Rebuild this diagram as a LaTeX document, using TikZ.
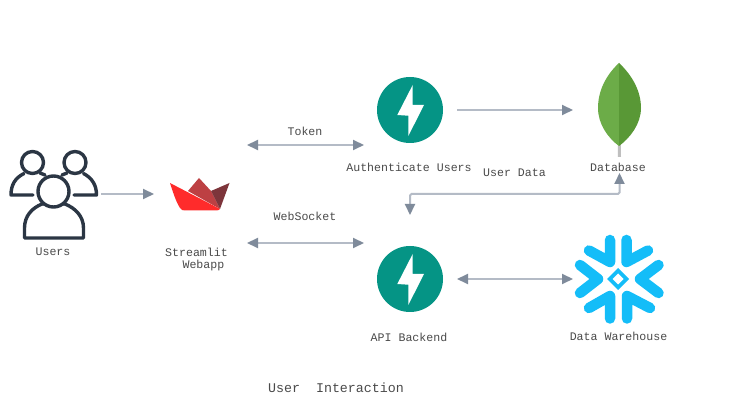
\documentclass[tikz,border=0pt]{standalone}
\usepackage{fontspec}
\setmonofont{Liberation Mono}
\usetikzlibrary{arrows.meta}
\definecolor{linec}{HTML}{B4BBC6}
\definecolor{tipc}{HTML}{7F8B9B}
\definecolor{txt}{HTML}{4A4A4A}
\definecolor{ink}{HTML}{2B3644}
\definecolor{fast}{HTML}{059485}
\definecolor{snow}{HTML}{14BDF8}
\tikzset{
  lbl/.style={font=\fontsize{11.6}{12.5}\selectfont\ttfamily,text=txt,inner sep=0pt,align=center},
  icon/.style={inner sep=0pt,minimum size=#1},
  tip/.style={},
  conn/.style={draw=linec,line width=2pt,-{Stealth[inset=0pt,length=11pt,width=10pt,color=tipc]}},
  conn2/.style={draw=linec,line width=2pt,{Stealth[inset=0pt,length=11pt,width=10pt,color=tipc]}-{Stealth[inset=0pt,length=11pt,width=10pt,color=tipc]}},
  person/.style={draw=ink,line width=3.4pt,line cap=round,line join=round},
  arm/.style={draw=snow,line width=10.5pt,line cap=round,line join=miter}
}
\begin{document}
\begin{tikzpicture}[x=1pt,y=-1pt]
\useasboundingbox[fill=white] (0,0) rectangle (748,403);
% users
\node[icon=80pt] (users) at (53,200) {};
\draw[person] (32.5,162.5) circle (11);
\draw[person] (75,162.5) circle (11);
\draw[person] (33,195) -- (11,195) .. controls (11,185) and (15,178) .. (24,173.5);
\draw[person] (40,173) -- (45,175);
\draw[person] (74,195) -- (96.5,195) .. controls (96.5,185) and (92,178) .. (83.5,173.5);
\draw[person] (67,173) -- (62,175);
\draw[person,fill=white] (24.5,238) -- (24.5,228) .. controls (24.5,216) and (32,208) .. (42,204) -- (65,204) .. controls (75,208) and (83.5,216) .. (83.5,228) -- (83.5,238) -- cycle;
\draw[person,fill=white] (53.5,191.5) circle (15.5);
% streamlit
\node[icon=60pt] (st) at (199,194) {};
\fill[fill={rgb,255:red,189;green,64;blue,67}] (199,178) -- (188,191) -- (220,209) -- (211,191) -- cycle;
\fill[fill={rgb,255:red,125;green,53;blue,59}] (229.5,183) -- (211,191) -- (220,209) -- cycle;
\fill[fill={rgb,255:red,255;green,43;blue,43}] (170,183) .. controls (173,192) and (176,202) .. (180,208) .. controls (181,210) and (183,210.5) .. (185,210.5) -- (216,210.5) .. controls (218,210.5) and (219,210) .. (220,209) -- cycle;
% fastapi top
\node[circle,fill=fast,icon=66pt] (auth) at (410,110) {};
\fill[white] (412.7,85) -- (397.3,115) -- (408.3,115.7) -- (408.3,136) -- (424,105) -- (412.7,105) -- cycle;
% fastapi bottom
\node[circle,fill=fast,icon=66pt] (api) at (410,279) {};
\fill[white] (412.7,254) -- (397.3,284) -- (408.3,284.7) -- (408.3,305) -- (424,274) -- (412.7,274) -- cycle;
% leaf
\node[icon=60pt] (db) at (619,110) {};
\fill[gray!50] (617.8,130) -- (620.5,130) -- (621,157) -- (617.8,157) -- cycle;
\fill[fill={rgb,255:red,108;green,172;blue,72}] (619,63) .. controls (605,76) and (598,92) .. (598,108) .. controls (598,124) and (608,138) .. (619,146) -- cycle;
\fill[fill={rgb,255:red,89;green,152;blue,54}] (619,63) .. controls (633,76) and (641,92) .. (641,108) .. controls (641,124) and (630,138) .. (619,146) -- cycle;
% snowflake
\node[icon=90pt] (dw) at (618,279) {};
\draw[arm,line join=round] (589,250.5) -- (610,262) -- (610,240);
\draw[arm,line join=round] (648,250.5) -- (626.5,262) -- (626.5,240);
\draw[arm,line join=round] (580,265) -- (598,279) -- (580,293);
\draw[arm,line join=round] (658.5,265) -- (640,279) -- (658.5,293);
\draw[arm,line join=round] (589,308) -- (610,296) -- (610,318.5);
\draw[arm,line join=round] (650,308) -- (627,296) -- (627,318.5);
\fill[snow] (618,268) -- (629,279) -- (618,290) -- (607,279) -- cycle;
\fill[white] (618,273.5) -- (623.5,279) -- (618,284.5) -- (612.5,279) -- cycle;
% free ends
\coordinate (a1) at (101,194); \coordinate (a2) at (154,194);
\coordinate (t1) at (247,145); \coordinate (t2) at (364,145);
\coordinate (w1) at (247,243); \coordinate (w2) at (364,243);
\coordinate (b1) at (457,110); \coordinate (b2) at (573,110);
\coordinate (c1) at (619.5,173); \coordinate (c2) at (410,215);
\coordinate (d1) at (457,279); \coordinate (d2) at (573,279);
\draw[conn] (a1) -- (a2);
\draw[conn2] (t1) -- (t2);
\draw[conn2] (w1) -- (w2);
\draw[conn] (b1) -- (b2);
\draw[conn2,rounded corners=1.5pt] (c1) |- (c2 |- 0,194) -- (c2);
\draw[conn2] (d1) -- (d2);
% labels
\node[lbl] (l1) at (53,252) {Users};
\node[lbl] (l2) at (196.5,260) {Streamlit\\[-0.5pt]\ \ Webapp};
\node[lbl] (l3) at (305,131) {Token};
\node[lbl] (l4) at (305,216) {WebSocket};
\node[lbl] (l5) at (409,167) {Authenticate Users};
\node[lbl] (l6) at (514.5,173) {User Data};
\node[lbl] (l7) at (618,167) {Database};
\node[lbl] (l8) at (409,337) {API Backend};
\node[lbl] (l9) at (618.5,336) {Data Warehouse};
\node[lbl,font=\fontsize{13.3}{14}\selectfont\ttfamily] (l10) at (336,388) {User\ \ Interaction};
\end{tikzpicture}
\end{document}
